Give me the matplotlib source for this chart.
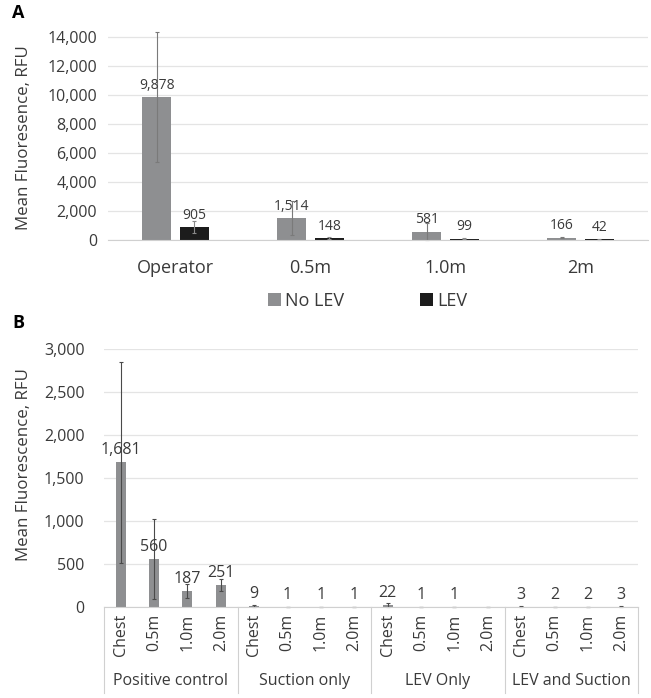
import matplotlib
matplotlib.use('Agg')
import matplotlib.pyplot as plt
import matplotlib.transforms as mtransforms
import numpy as np

plt.rcParams['font.family'] = ['Open Sans', 'DejaVu Sans']

# ── Panel A data ────────────────────────────────────────────
a_categories = ['Operator', '0.5m', '1.0m', '2m']
a_no_lev = [9878, 1514, 581, 166]
a_no_lev_err = [4480, 1150, 560, 60]
a_lev = [905, 148, 99, 42]
a_lev_err = [420, 50, 20, 10]

# ── Panel B data ────────────────────────────────────────────
b_groups = ['Positive control', 'Suction only', 'LEV Only', 'LEV and Suction']
b_positions = ['Chest', '0.5m', '1.0m', '2.0m']
b_values = [1681, 560, 187, 251,
            9, 1, 1, 1,
            22, 1, 1, 0,
            3, 2, 2, 3]
b_err = [1170, 465, 80, 70,
         12, 2, 2, 2,
         20, 2, 2, 2,
         3, 2, 2, 3]

GRAY = '#8e8f91'
BLACK = '#1c1c1c'
GRID = '#e4e4e4'
TXT = '#3a3a3a'

W, H = 651, 698
fig = plt.figure(figsize=(W / 100, H / 100), dpi=100)


def frac(x0, y_top, x1, y_bot):
    return [x0 / W, 1 - y_bot / H, (x1 - x0) / W, (y_bot - y_top) / H]


def style_axes(ax):
    for s in ['top', 'right', 'left']:
        ax.spines[s].set_visible(False)
    ax.spines['bottom'].set_color('#d0d0d0')
    ax.tick_params(axis='both', length=0, colors=TXT)
    ax.yaxis.grid(True, color=GRID, linewidth=0.9)
    ax.set_axisbelow(True)


# ── Panel A ─────────────────────────────────────────────────
axA = fig.add_axes(frac(108, 31.2, 648, 240))
style_axes(axA)
x = np.arange(len(a_categories))
bw = 0.215
off = 0.14
axA.bar(x - off, a_no_lev, bw, color=GRAY, label='No LEV')
axA.bar(x + off, a_lev, bw, color=BLACK, label='LEV')
axA.errorbar(x - off, a_no_lev, yerr=a_no_lev_err, fmt='none', ecolor='#7a7a7a',
             elinewidth=0.8, capsize=1.2, capthick=0.8, clip_on=False)
axA.errorbar(x + off, a_lev, yerr=a_lev_err, fmt='none', ecolor='#8a8a8a',
             elinewidth=0.8, capsize=1.2, capthick=0.8, clip_on=False)
for xi, v in zip(x - off, a_no_lev):
    axA.annotate(f'{v:,}', (xi, v), xytext=(0, 3), textcoords='offset points',
                 ha='center', va='bottom', fontsize=10, color=TXT)
for xi, v in zip(x + off, a_lev):
    axA.annotate(f'{v:,}', (xi, v), xytext=(0, 3), textcoords='offset points',
                 ha='center', va='bottom', fontsize=10, color=TXT)
axA.set_xlim(-0.5, 3.5)
axA.set_ylim(0, 14400)
axA.set_yticks(np.arange(0, 14001, 2000))
axA.set_yticklabels([f'{t:,}' for t in range(0, 14001, 2000)], fontsize=11.5)
axA.set_xticks(x)
axA.set_xticklabels(a_categories, fontsize=13)
axA.tick_params(axis='x', pad=14)
axA.tick_params(axis='y', pad=8)
axA.set_ylabel('Mean Fluoresence, RFU', fontsize=12.2, color=TXT)
axA.yaxis.set_label_coords(-0.141, 0.489)
axA.legend(loc='center', bbox_to_anchor=(0.481, -0.29), ncol=2, frameon=False,
           fontsize=13, handlelength=0.7, handleheight=0.7, columnspacing=4.2,
           handletextpad=0.25, labelcolor=TXT)
fig.text(12 / W, 1 - 13 / H, 'A', fontsize=13, fontweight='bold', va='center')

# ── Panel B ─────────────────────────────────────────────────
axB = fig.add_axes(frac(104, 349, 638, 607))
style_axes(axB)
xb = np.arange(len(b_values))
axB.bar(xb, b_values, 0.3, color=GRAY)
axB.errorbar(xb, b_values, yerr=b_err, fmt='none', ecolor='#4a4a4a',
             elinewidth=0.8, capsize=1.2, capthick=0.8, clip_on=False)
for xi, v in zip(xb, b_values):
    if v == 0:
        continue
    axB.annotate(f'{v:,}', (xi, v), xytext=(0, 3), textcoords='offset points',
                 ha='center', va='bottom', fontsize=11.5, color=TXT)
axB.set_xlim(-0.5, len(b_values) - 0.5)
axB.set_ylim(0, 3000)
axB.set_yticks(np.arange(0, 3001, 500))
axB.set_yticklabels([f'{t:,}' for t in range(0, 3001, 500)], fontsize=11.5)
axB.tick_params(axis='y', pad=14)
axB.set_xticks(xb)
axB.set_xticklabels(b_positions * len(b_groups), rotation=90, fontsize=11.5)
axB.tick_params(axis='x', pad=5)
axB.set_ylabel('Mean Fluorescence, RFU', fontsize=12.2, color=TXT)
axB.yaxis.set_label_coords(-0.135, 0.554)

trans = mtransforms.blended_transform_factory(axB.transData, axB.transAxes)
n = len(b_positions)
for g, name in enumerate(b_groups):
    axB.text(g * n + (n - 1) / 2, -0.285, name, transform=trans, ha='center',
             va='center', fontsize=11.5, color=TXT)
for g in range(len(b_groups) + 1):
    xs = g * n - 0.5
    axB.plot([xs, xs], [0, -0.335], transform=trans, color='#d0d0d0',
             linewidth=0.8, clip_on=False)
fig.text(12 / W, 1 - 323 / H, 'B', fontsize=13, fontweight='bold', va='center')

fig.savefig('out.png', dpi=100)
